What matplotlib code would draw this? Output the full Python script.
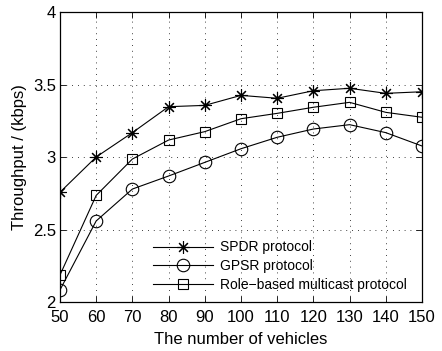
import matplotlib.pyplot as plt

vehicles = [50, 60, 70, 80, 90, 100, 110, 120, 130, 140, 150]
spdr = [2.757, 3.0, 3.168, 3.347, 3.356, 3.425, 3.405, 3.457, 3.474, 3.439, 3.45]
gpsr = [2.083, 2.559, 2.779, 2.869, 2.963, 3.057, 3.136, 3.193, 3.223, 3.168, 3.076]
role = [2.186, 2.735, 2.986, 3.117, 3.175, 3.264, 3.301, 3.343, 3.377, 3.308, 3.274]
yticks = [2, 2.5, 3, 3.5, 4]
ytick_labels = ['2', '2.5', '3', '3.5', '4']

plt.rcParams['font.family'] = ['Liberation Sans', 'DejaVu Sans']

fig = plt.figure(figsize=(4.42, 3.51), dpi=100)
ax = fig.add_axes([0.1357, 0.1396, 0.8190, 0.8262])

ax.plot(vehicles, spdr, color='black', lw=0.8, marker=(8, 2, 0), ms=9,
        mew=0.8, mfc='none', mec='black', label='SPDR protocol')
ax.plot(vehicles, gpsr, color='black', lw=0.8, marker='o', ms=9,
        mew=0.8, mfc='none', mec='black', label='GPSR protocol')
ax.plot(vehicles, role, color='black', lw=0.8, marker='s', ms=7.5,
        mew=0.8, mfc='none', mec='black', label='Role\u2212based multicast protocol')

ax.set_xlim(50, 150)
ax.set_ylim(2, 4)
ax.set_xticks(vehicles)
ax.set_yticks(yticks)
ax.set_yticklabels(ytick_labels)
ax.tick_params(direction='in', top=True, right=True, labelsize=12, length=4, width=0.6, pad=3)
ax.tick_params(axis='x', pad=6)
ax.grid(True, linestyle=(0, (1, 6)), color='black', lw=0.6)
for s in ax.spines.values():
    s.set_linewidth(0.9)

ax.set_xlabel('The number of vehicles', fontsize=12, labelpad=5)
ax.set_ylabel('Throughput / (kbps)', fontsize=12, labelpad=4)

# legend without frame, bottom centre-right like the original
ax.legend(loc='lower left', bbox_to_anchor=(0.235, 0.005), frameon=False, fontsize=10,
          handlelength=4.3, labelspacing=0.35, handletextpad=0.5, borderaxespad=0.2)

fig.savefig('out.png', dpi=100)
